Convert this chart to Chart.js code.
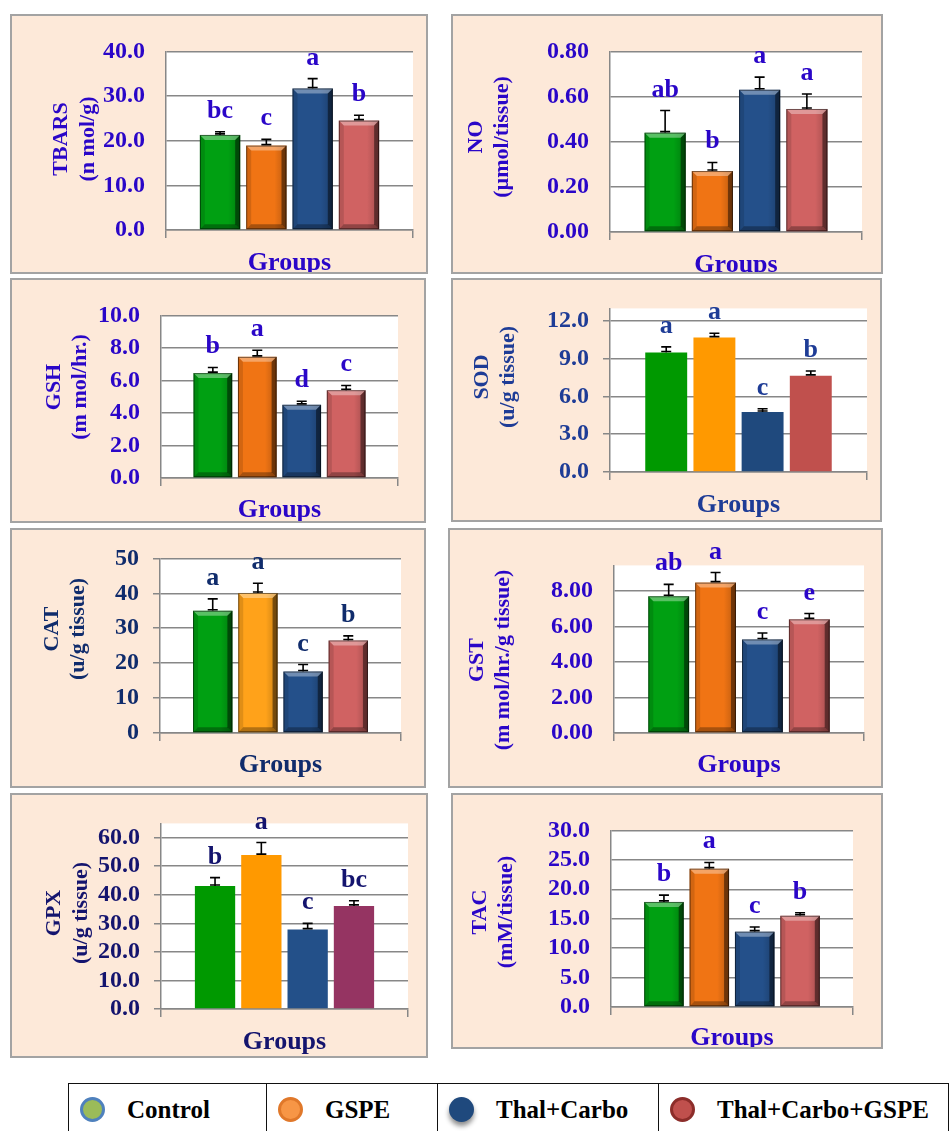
<!DOCTYPE html>
<html>
<head>
<meta charset="utf-8">
<script src="https://cdn.jsdelivr.net/npm/chart.js@4.4.1/dist/chart.umd.min.js"></script>
<style>
  html, body { margin: 0; padding: 0; background: #fff; }
  body { width: 952px; height: 1131px; position: relative; overflow: hidden; font-family: "Liberation Serif", serif; }
  .panel { position: absolute; box-sizing: border-box; border: 2px solid #a3a3a3; background: #fde9d9; overflow: hidden; }
  .panel canvas { position: absolute; left: 0; top: 0; }
  #legend { position: absolute; left: 68px; top: 1083px; border-collapse: collapse; }
  #legend td { border: 1.5px solid #111; height: 52px; padding: 0 0 0 11px; vertical-align: middle; white-space: nowrap;
    font-family: "Liberation Serif", "Times New Roman", serif; font-weight: bold; font-size: 25px; color: #000; }
  #legend .dot { display: inline-block; box-sizing: border-box; width: 25px; height: 25px; border-radius: 50%;
    vertical-align: middle; margin-right: 22px; position: relative; top: -2px; }
</style>
</head>
<body>
<table id="legend"><tr></tr></table>
<script>
// groups (one bar each, same order in every panel)
const groups = ["Control", "GSPE", "Thal+Carbo", "Thal+Carbo+GSPE"];

// mean, SE and significance letters per parameter
const tbarsMean = [21.3, 18.9, 31.7, 24.5];
const tbarsErr = [0.7, 1.4, 2.2, 1.2];
const tbarsSig = ["bc", "c", "a", "b"];

const noMean = [0.44, 0.27, 0.63, 0.545];
const noErr = [0.098, 0.038, 0.056, 0.066];
const noSig = ["ab", "b", "a", "a"];

const gshMean = [6.45, 7.45, 4.5, 5.4];
const gshErr = [0.35, 0.41, 0.22, 0.29];
const gshSig = ["b", "a", "d", "c"];

const sodMean = [9.5, 10.68, 4.77, 7.64];
const sodErr = [0.44, 0.34, 0.26, 0.39];
const sodSig = ["a", "a", "c", "b"];

const catMean = [35.0, 40.1, 17.6, 26.5];
const catErr = [3.4, 2.8, 2.0, 1.3];
const catSig = ["a", "a", "c", "b"];

const gstMean = [7.7, 8.47, 5.27, 6.4];
const gstErr = [0.67, 0.57, 0.36, 0.33];
const gstSig = ["ab", "a", "c", "e"];

const gpxMean = [43.1, 53.9, 27.8, 36.1];
const gpxErr = [2.9, 4.4, 2.2, 1.8];
const gpxSig = ["b", "a", "c", "bc"];

const tacMean = [17.85, 23.5, 12.8, 15.5];
const tacErr = [1.15, 1.05, 0.8, 0.5];
const tacSig = ["b", "a", "c", "b"];

// axis titles
const tbarsTitle = ["TBARS", "(n mol/g)"];
const noTitle = ["NO", "(\u00b5mol/tissue)"];
const gshTitle = ["GSH", "(m mol/hr.)"];
const sodTitle = ["SOD", "(u/g tissue)"];
const catTitle = ["CAT", "(u/g tissue)"];
const gstTitle = ["GST", "(m mol/hr./g tissue)"];
const gpxTitle = ["GPX", "(u/g tissue)"];
const tacTitle = ["TAC", "(mM/tissue)"];
const xTitle = "Groups";

// palettes
const bevelColors = ["#00a012", "#f07414", "#24508a", "#d06262"];
const catColors = ["#00a012", "#ffa21a", "#24508a", "#d06262"];
const sodColors = ["#009900", "#ff9900", "#1f497d", "#c0504d"];
const gpxColors = ["#009900", "#ff9900", "#235089", "#953462"];
const legendFill = ["#9bbb59", "#f79646", "#1f497d", "#c0504d"];
const legendRing = ["#4f81bd", "#e0782a", "#1f497d", "#8c2d2a"];

const violet = "#2a06c8";
const gridGray = "#878787";

// box: [left, top, width, height]  plot: [left, top, right, bottom] (page px)
const panels = [
  { mean: tbarsMean, err: tbarsErr, sig: tbarsSig, title: tbarsTitle, colors: bevelColors, bevel: true,
    box: [10, 14, 418, 260], plot: [166, 48, 413, 230], max: 40, step: 10, dec: 1, marks: false,
    color: violet, titleX: [61, 88], titleY: 139, groupsY: 270 },
  { mean: noMean, err: noErr, sig: noSig, title: noTitle, colors: bevelColors, bevel: true,
    box: [451, 14, 432, 260], plot: [610, 36, 862, 232], max: 0.8, step: 0.2, dec: 2, marks: false,
    color: violet, titleX: [476, 502], titleY: 137, groupsY: 272 },
  { mean: gshMean, err: gshErr, sig: gshSig, title: gshTitle, colors: bevelColors, bevel: true,
    box: [10, 278, 416, 245], plot: [161, 307, 398, 478], max: 10, step: 2, dec: 1, marks: false,
    color: violet, titleX: [54, 80], titleY: 387, groupsY: 517 },
  { mean: sodMean, err: sodErr, sig: sodSig, title: sodTitle, colors: sodColors, bevel: false,
    box: [451, 278, 431, 244], plot: [610, 303, 867, 472], max: 13, step: 3, dec: 1, marks: true,
    color: "#1e3c96", titleX: [482, 508], titleY: 377, groupsY: 512 },
  { mean: catMean, err: catErr, sig: catSig, title: catTitle, colors: catColors, bevel: true,
    box: [10, 528, 416, 260], plot: [160, 553, 401, 733], max: 50, step: 10, dec: 0, marks: true,
    color: "#102c6c", titleX: [52, 78], titleY: 629, groupsY: 772 },
  { mean: gstMean, err: gstErr, sig: gstSig, title: gstTitle, colors: bevelColors, bevel: true,
    box: [448, 528, 435, 260], plot: [614, 552, 864, 733], max: 9.44, step: 2, dec: 2, marks: false,
    color: violet, titleX: [477, 503], titleY: 660, groupsY: 772 },
  { mean: gpxMean, err: gpxErr, sig: gpxSig, title: gpxTitle, colors: gpxColors, bevel: false,
    box: [10, 793, 418, 265], plot: [161, 818, 408, 1009], max: 65, step: 10, dec: 1, marks: true,
    color: "#14146e", titleX: [54, 81], titleY: 913, groupsY: 1049 },
  { mean: tacMean, err: tacErr, sig: tacSig, title: tacTitle, colors: bevelColors, bevel: true,
    box: [451, 793, 432, 256], plot: [611, 817, 853, 1007], max: 30, step: 5, dec: 1, marks: false,
    color: violet, titleX: [480, 506], titleY: 912, groupsY: 1045 },
];

const serif = '"Liberation Serif", "Times New Roman", serif';

function drawBevel(ctx, x0, x1, y0, y1) {
  const b = Math.min(5, (x1 - x0) / 4, (y1 - y0) / 4);
  const poly = (pts, fill) => {
    ctx.beginPath();
    pts.forEach(([px, py], k) => (k ? ctx.lineTo(px, py) : ctx.moveTo(px, py)));
    ctx.closePath();
    ctx.fillStyle = fill;
    ctx.fill();
  };
  const g = ctx.createLinearGradient(x0, 0, x1, 0);
  g.addColorStop(0, "rgba(0,0,0,0)");
  g.addColorStop(0.7, "rgba(0,0,0,0)");
  g.addColorStop(1, "rgba(0,0,0,0.22)");
  ctx.fillStyle = g;
  ctx.fillRect(x0, y0, x1 - x0, y1 - y0);
  poly([[x0, y0], [x1, y0], [x1 - b, y0 + b], [x0 + b, y0 + b]], "rgba(255,255,255,0.35)");
  poly([[x0, y0], [x0 + b, y0 + b], [x0 + b, y1 - b], [x0, y1]], "rgba(0,0,0,0.12)");
  poly([[x1, y0], [x1, y1], [x1 - b, y1 - b], [x1 - b, y0 + b]], "rgba(0,0,0,0.45)");
  poly([[x0, y1], [x1, y1], [x1 - b, y1 - b], [x0 + b, y1 - b]], "rgba(0,0,0,0.3)");
  ctx.strokeStyle = "rgba(0,0,0,0.5)";
  ctx.lineWidth = 1;
  ctx.strokeRect(x0 + 0.5, y0 + 0.5, x1 - x0 - 1, y1 - y0 - 1);
}

function makePanel(p) {
  const [bx, by, bw, bh] = p.box;
  const cx = bx + 2, cy = by + 2, cw = bw - 4, ch = bh - 4;
  const [L, T, R, B] = p.plot;

  const box = document.createElement("div");
  box.className = "panel";
  box.style.left = bx + "px";
  box.style.top = by + "px";
  box.style.width = bw + "px";
  box.style.height = bh + "px";
  const canvas = document.createElement("canvas");
  canvas.width = cw;
  canvas.height = ch;
  box.appendChild(canvas);
  document.body.appendChild(box);

  const decor = {
    id: "decor",
    beforeDraw(chart) {
      const { ctx, chartArea: a } = chart;
      ctx.save();
      ctx.fillStyle = "#fff";
      ctx.fillRect(a.left, a.top, a.right - a.left, a.bottom - a.top);
      ctx.restore();
    },
    afterDatasetsDraw(chart) {
      const ctx = chart.ctx, y = chart.scales.y;
      ctx.save();
      chart.data.datasets.forEach((ds, i) => {
        const bar = chart.getDatasetMeta(i).data[0];
        const x0 = bar.x - bar.width / 2, x1 = bar.x + bar.width / 2;
        if (p.bevel) drawBevel(ctx, x0, x1, bar.y, bar.base);
        // error bar (upper half, I-shape on the bar)
        const yTop = y.getPixelForValue(p.mean[i] + p.err[i]);
        const yBar = y.getPixelForValue(p.mean[i]);
        ctx.strokeStyle = "#000";
        ctx.lineWidth = 1.6;
        ctx.beginPath();
        ctx.moveTo(bar.x, yBar);
        ctx.lineTo(bar.x, yTop);
        ctx.moveTo(bar.x - 5, yTop);
        ctx.lineTo(bar.x + 5, yTop);
        ctx.moveTo(bar.x - 5, yBar - 1);
        ctx.lineTo(bar.x + 5, yBar - 1);
        ctx.stroke();
        // significance letter
        ctx.fillStyle = p.color;
        ctx.font = "bold 26px " + serif;
        ctx.textAlign = "center";
        ctx.textBaseline = "alphabetic";
        ctx.fillText(p.sig[i], bar.x, yTop - 14);
      });
      ctx.restore();
    },
    afterDraw(chart) {
      const { ctx, chartArea: a } = chart;
      ctx.save();
      ctx.fillStyle = p.color;
      ctx.textAlign = "center";
      ctx.textBaseline = "middle";
      ctx.font = "bold 22px " + serif;
      p.title.forEach((line, k) => {
        ctx.save();
        ctx.translate(p.titleX[k] - cx, p.titleY - cy);
        ctx.rotate(-Math.PI / 2);
        ctx.fillText(line, 0, 0);
        ctx.restore();
      });
      ctx.font = "bold 26px " + serif;
      ctx.textBaseline = "alphabetic";
      ctx.fillText(xTitle, (a.left + a.right) / 2, p.groupsY - cy);
      ctx.restore();
    },
  };

  new Chart(canvas, {
    type: "bar",
    data: {
      labels: [xTitle],
      datasets: groups.map((g, i) => ({
        label: g,
        data: [p.mean[i]],
        backgroundColor: p.colors[i],
        borderWidth: 0,
        categoryPercentage: 0.75,
        barPercentage: 0.87,
      })),
    },
    options: {
      responsive: false,
      animation: false,
      events: [],
      layout: { padding: { left: 0, top: T - cy, right: cw - (R - cx), bottom: 0 } },
      plugins: { legend: { display: false }, tooltip: { enabled: false } },
      scales: {
        x: {
          grid: { display: true, drawOnChartArea: false, drawTicks: true, tickLength: 8, color: gridGray, lineWidth: 1.5 },
          border: { display: true, color: gridGray, width: 1.5 },
          ticks: { display: false },
          afterFit: (s) => { s.height = ch - (B - cy); },
        },
        y: {
          min: 0,
          max: p.max,
          grid: { color: gridGray, lineWidth: 1.5, drawTicks: p.marks, tickLength: 7 },
          border: { display: true, color: gridGray, width: 1.5 },
          ticks: {
            stepSize: p.step,
            includeBounds: false,
            autoSkip: false,
            padding: p.marks ? 14 : 21,
            color: p.color,
            font: { family: serif, weight: "bold", size: 24 },
            callback: (v) => v.toFixed(p.dec),
          },
          afterFit: (s) => { s.width = L - cx; },
        },
      },
    },
    plugins: [decor],
  });
}

panels.forEach(makePanel);

// legend table
const row = document.querySelector("#legend tr");
const cellWidths = [198, 171, 221, 290];
groups.forEach((g, i) => {
  const td = document.createElement("td");
  td.style.width = cellWidths[i] - 12 + "px";
  const dot = document.createElement("span");
  dot.className = "dot";
  dot.style.background = legendFill[i];
  if (i === 2) {
    dot.style.boxShadow = "0 4px 5px rgba(0,0,0,0.45)";
  } else {
    dot.style.border = "3px solid " + legendRing[i];
  }
  td.appendChild(dot);
  td.appendChild(document.createTextNode(g));
  row.appendChild(td);
});
</script>
</body>
</html>
